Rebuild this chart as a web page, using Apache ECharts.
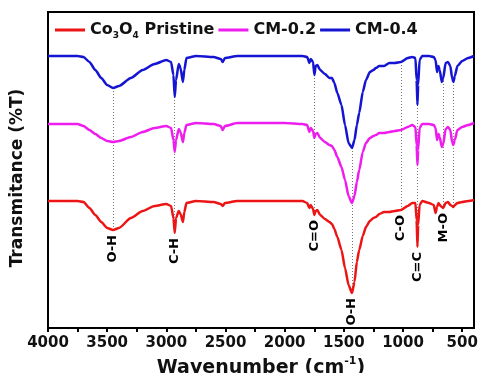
<!DOCTYPE html>
<html>
<head>
<meta charset="utf-8">
<script src="https://cdn.jsdelivr.net/npm/echarts@6/dist/echarts.min.js"></script>
<style>
  html, body { margin: 0; padding: 0; background: #fff; }
  #chart { width: 481px; height: 373px; }
</style>
</head>
<body>
<div id="chart"></div>
<script>
// wavenumber grid (cm-1), shared by the three spectra
const wavenumbers = [4000, 3750, 3700, 3650, 3600, 3550, 3500, 3450, 3400, 3300, 3200, 3100, 3000, 2960, 2940, 2929, 2918, 2895, 2880, 2860, 2848, 2830, 2750, 2600, 2540, 2524, 2505, 2400, 2000, 1850, 1810, 1791, 1780, 1760, 1749, 1738, 1724, 1700, 1660, 1622, 1600, 1580, 1555, 1520, 1490, 1460, 1431, 1410, 1390, 1370, 1340, 1313, 1280, 1250, 1229, 1200, 1160, 1116, 1070, 1018, 960, 922, 895, 885, 878, 872, 860, 838, 780, 740, 725, 712, 700, 690, 672, 660, 640, 620, 600, 585, 574, 562, 540, 500, 450, 400]

// transmittance (arbitrary units, stacked with offsets)
const cm04 = [272, 272, 271, 266, 258, 250, 243, 240, 242, 250, 258, 264, 268, 266, 253, 231, 248, 264, 260, 246, 258, 270, 272, 271, 269, 266, 270, 272, 272, 272, 271, 265, 269, 266, 253, 262, 263, 258, 254, 250, 250, 245, 235, 223, 203, 185, 180, 188, 203, 215, 236, 248, 256, 258, 260, 262, 262, 265, 265, 266, 270, 271, 270, 248, 223, 243, 268, 272, 272, 271, 268, 256, 262, 258, 246, 250, 265, 266, 262, 250, 246, 252, 262, 267, 270, 272]
const cm02 = [204, 204, 202, 198, 194, 190, 187, 186, 187, 191, 196, 200, 202, 200, 188, 176, 188, 199, 196, 186, 195, 203, 205, 204, 202, 198, 202, 205, 205, 204, 203, 196, 200, 197, 190, 194, 195, 190, 186, 183, 182, 178, 171, 161, 148, 132, 125, 132, 146, 158, 176, 185, 190, 192, 193, 195, 195, 196, 197, 198, 201, 203, 201, 183, 163, 178, 200, 204, 204, 203, 200, 188, 194, 191, 181, 184, 199, 201, 198, 186, 183, 188, 198, 201, 203, 205]
const pristine = [127, 127, 126, 120, 113, 106, 100, 98, 100, 110, 117, 122, 124, 122, 110, 95, 110, 117, 114, 106, 116, 125, 127, 126, 124, 122, 125, 127, 127, 127, 125, 120, 123, 119, 113, 117, 118, 113, 109, 106, 104, 99, 91, 78, 60, 43, 35, 46, 66, 78, 92, 101, 107, 110, 111, 114, 116, 116, 117, 118, 122, 125, 125, 108, 81, 103, 123, 127, 125, 123, 115, 121, 125, 123, 121, 120, 125, 126, 123, 122, 121, 123, 125, 126, 127, 128]

// band assignments
const bandWn = [3450, 2929, 1749, 1431, 1018, 878, 660, 574]
const bandNames = ['O-H', 'C-H', 'C=O', 'O-H', 'C-O', 'C=C', 'M-O', '']

const xTicks = [500, 1000, 1500, 2000, 2500, 3000, 3500, 4000]
const xMinorTicks = [500, 750, 1000, 1250, 1500, 1750, 2000, 2250, 2500, 2750, 3000, 3250, 3500, 3750, 4000]

function pairs(vals) {
    return wavenumbers.map((w, i) => [w, vals[i]])
}
function valueAt(vals, wn) {
    return vals[wavenumbers.indexOf(wn)]
}

const font = 'DejaVu Sans'
const chart = echarts.init(document.getElementById('chart'), null, { renderer: 'canvas' })

const lineBase = {
    type: 'line',
    smooth: 0.2,
    smoothMonotone: 'x',
    showSymbol: false,
    symbol: 'none',
    animation: false
}

chart.setOption({
    backgroundColor: '#fff',
    animation: false,
    grid: {
        left: 48, right: 7, top: 12, bottom: 45,
        outerBoundsMode: 'none',
        show: true, borderColor: '#000', borderWidth: 2, backgroundColor: 'transparent'
    },
    legend: {
        left: 50, top: 17,
        itemWidth: 30, itemHeight: 3, itemGap: 4,
        icon: 'rect',
        data: ['Co3O4 Pristine', 'CM-0.2', 'CM-0.4'],
        formatter: (name) => name === 'Co3O4 Pristine'
            ? '{a|Co}{s|3}{a|O}{s|4}{a| Pristine}'
            : '{a|' + name + '}',
        textStyle: {
            rich: {
                a: { fontFamily: font, fontWeight: 'bold', fontSize: 16, color: '#111', lineHeight: 20, verticalAlign: 'middle' },
                s: { fontFamily: font, fontWeight: 'bold', fontSize: 9, color: '#111', lineHeight: 20, verticalAlign: 'bottom' }
            }
        }
    },
    xAxis: {
        type: 'value',
        min: 400, max: 4000,
        inverse: true,
        name: '{n|Wavenumber (cm}{sup|-1}{n|)}',
        nameLocation: 'middle',
        nameGap: 26,
        nameTextStyle: {
            rich: {
                n: { fontFamily: font, fontWeight: 'bold', fontSize: 19, color: '#111', lineHeight: 22, verticalAlign: 'bottom' },
                sup: { fontFamily: font, fontWeight: 'bold', fontSize: 11, color: '#111', lineHeight: 22, verticalAlign: 'top' }
            }
        },
        axisLine: { show: true, onZero: false, lineStyle: { color: '#000', width: 2 } },
        axisTick: { show: true, inside: false, length: 4, customValues: xMinorTicks, lineStyle: { color: '#000', width: 2 } },
        axisLabel: {
            customValues: xTicks,
            formatter: (v) => String(v),
            margin: 8,
            fontFamily: font, fontWeight: 'bold', fontSize: 15, color: '#111'
        },
        splitLine: { show: false }
    },
    yAxis: {
        type: 'value',
        min: 0, max: 316,
        name: 'Transmitance (%T)',
        nameLocation: 'middle',
        nameGap: 22,
        nameTextStyle: { fontFamily: font, fontWeight: 'bold', fontSize: 17, color: '#111', padding: [0, 16, 0, 0] },
        axisLine: { show: true, lineStyle: { color: '#000', width: 2 } },
        axisTick: { show: false },
        axisLabel: { show: false },
        splitLine: { show: false }
    },
    series: [
        Object.assign({}, lineBase, {
            name: 'CM-0.4',
            data: pairs(cm04),
            itemStyle: { color: '#1414d2' },
            lineStyle: { width: 2.5, color: '#1414d2' },
            z: 3
        }),
        Object.assign({}, lineBase, {
            name: 'CM-0.2',
            data: pairs(cm02),
            itemStyle: { color: '#ee1cee' },
            lineStyle: { width: 2.5, color: '#ee1cee' },
            z: 3
        }),
        Object.assign({}, lineBase, {
            name: 'Co3O4 Pristine',
            data: pairs(pristine),
            itemStyle: { color: '#ec1414' },
            lineStyle: { width: 2.5, color: '#ec1414' },
            z: 3,
            markLine: {
                silent: true,
                symbol: 'none',
                label: { show: false },
                lineStyle: { color: '#777', type: [1, 2], width: 1 },
                z: 1,
                data: bandWn.map(w => [
                    { coord: [w, valueAt(cm04, w)] },
                    { coord: [w, valueAt(pristine, w)] }
                ])
            }
        }),
        {
            type: 'scatter',
            symbolSize: 0,
            silent: true,
            animation: false,
            data: bandWn.map((w, i) => ({ value: [w, valueAt(pristine, w)], name: bandNames[i] })),
            label: {
                show: true,
                position: 'bottom',
                distance: 5,
                rotate: 90,
                align: 'right',
                verticalAlign: 'middle',
                formatter: (p) => p.name,
                fontFamily: font, fontWeight: 'bold', fontSize: 13, color: '#000', opacity: 1
            },
            itemStyle: { opacity: 1 }
        }
    ]
})
</script>
</body>
</html>
